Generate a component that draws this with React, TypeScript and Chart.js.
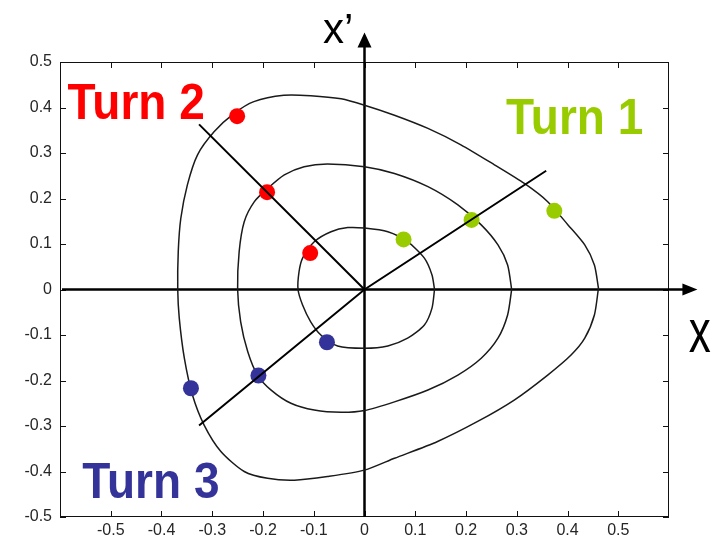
import { useEffect, useRef } from "react";
import { Chart, registerables } from "chart.js";

Chart.register(...registerables);

// ---- data ----
const tickValues = [-0.5, -0.4, -0.3, -0.2, -0.1, 0, 0.1, 0.2, 0.3, 0.4, 0.5];

const outerContour: [number, number][] = [
  [0.461, 0.003], [0.453, 0.054], [0.434, 0.098], [0.401, 0.142], [0.361, 0.193], [0.315, 0.233],
  [0.256, 0.274], [0.19, 0.318], [0.125, 0.354], [0.059, 0.383], [0, 0.405],
  [-0.046, 0.419], [-0.106, 0.426], [-0.159, 0.427], [-0.218, 0.413], [-0.257, 0.387], [-0.296, 0.347],
  [-0.329, 0.296], [-0.349, 0.23], [-0.362, 0.156], [-0.367, 0.083], [-0.368, 0.0],
  [-0.365, -0.063], [-0.355, -0.151], [-0.339, -0.232], [-0.316, -0.298], [-0.283, -0.356], [-0.237, -0.4],
  [-0.191, -0.415], [-0.138, -0.419], [-0.073, -0.411], [0, -0.397],
  [0.059, -0.371], [0.144, -0.334], [0.223, -0.29], [0.295, -0.243], [0.361, -0.188], [0.407, -0.144],
  [0.434, -0.107], [0.453, -0.056], [0.461, 0.003],
];

const middleContour: [number, number][] = [
  [0.29, 0], [0.282, 0.054], [0.263, 0.098], [0.23, 0.142], [0.184, 0.186], [0.125, 0.226], [0.059, 0.255], [0, 0.27],
  [-0.073, 0.276], [-0.119, 0.27], [-0.158, 0.252], [-0.191, 0.222], [-0.217, 0.193], [-0.237, 0.149], [-0.247, 0.083], [-0.25, 0],
  [-0.244, -0.071], [-0.23, -0.137], [-0.211, -0.188], [-0.184, -0.221], [-0.145, -0.25], [-0.099, -0.265], [-0.046, -0.27], [0, -0.266],
  [0.059, -0.247], [0.125, -0.221], [0.184, -0.188], [0.23, -0.151], [0.263, -0.107], [0.282, -0.056], [0.29, 0],
];

const innerContour: [number, number][] = [
  [0.138, 0], [0.133, 0.032], [0.118, 0.069], [0.085, 0.105], [0.046, 0.127], [0, 0.135],
  [-0.033, 0.136], [-0.066, 0.127], [-0.099, 0.105], [-0.122, 0.069], [-0.129, 0.039], [-0.131, 0],
  [-0.122, -0.034], [-0.106, -0.071], [-0.086, -0.1], [-0.053, -0.124], [0, -0.129],
  [0.046, -0.124], [0.085, -0.107], [0.118, -0.078], [0.133, -0.041], [0.138, 0],
];

const turn1Points: [number, number][] = [[0.077, 0.11], [0.211, 0.153], [0.374, 0.173]];
const turn2Points: [number, number][] = [[-0.251, 0.381], [-0.192, 0.214], [-0.107, 0.08]];
const turn3Points: [number, number][] = [[-0.074, -0.116], [-0.209, -0.189], [-0.342, -0.217]];

const turn2Line: [number, number][] = [[-0.326, 0.363], [0, 0]];
const turn13Line: [number, number][] = [[-0.326, -0.299], [0, 0], [0.358, 0.261]];

const labelTexts = ["Turn 1", "Turn 2", "Turn 3"];
const axisTexts = ["x\u2019", "x"];

// ---- styling / placement ----
const COLORS = { turn1: "#99cc00", turn2: "#ff0000", turn3: "#333399" };
const ARROW_X_END = 0.656; // data units where the x arrow tip sits
const ARROW_Y_END = 0.565;

const toXY = (a: [number, number][]) => a.map(([x, y]) => ({ x, y }));

const decorPlugin = {
  id: "decor",
  beforeDatasetsDraw(chart: any) {
    const { ctx, chartArea: a, scales } = chart;
    const xs = scales.x, ys = scales.y;
    const x0 = xs.getPixelForValue(0);
    const y0 = ys.getPixelForValue(0);
    ctx.save();
    ctx.strokeStyle = "#111";
    ctx.lineWidth = 1;
    ctx.strokeRect(Math.round(a.left) + 0.5, Math.round(a.top) + 0.5, Math.round(a.right - a.left) - 1, Math.round(a.bottom - a.top) - 1);
    ctx.beginPath();
    for (const v of tickValues) {
      const px = Math.round(xs.getPixelForValue(v)) + 0.5;
      ctx.moveTo(px, a.bottom); ctx.lineTo(px, a.bottom - 6);
      ctx.moveTo(px, a.top); ctx.lineTo(px, a.top + 6);
      const py = Math.round(ys.getPixelForValue(v)) + 0.5;
      ctx.moveTo(a.left, py); ctx.lineTo(a.left + 6, py);
      ctx.moveTo(a.right, py); ctx.lineTo(a.right - 6, py);
    }
    ctx.stroke();
    ctx.strokeStyle = "#000";
    ctx.fillStyle = "#000";
    ctx.lineWidth = 2.5;
    const xTip = xs.getPixelForValue(ARROW_X_END);
    const yTip = ys.getPixelForValue(ARROW_Y_END);
    ctx.beginPath();
    ctx.moveTo(a.left + 2, y0); ctx.lineTo(xTip - 12, y0);
    ctx.moveTo(x0, a.bottom); ctx.lineTo(x0, yTip + 12);
    ctx.stroke();
    ctx.beginPath();
    ctx.moveTo(xTip, y0); ctx.lineTo(xTip - 15, y0 - 6); ctx.lineTo(xTip - 15, y0 + 6); ctx.closePath();
    ctx.moveTo(x0, yTip); ctx.lineTo(x0 - 7, yTip + 15); ctx.lineTo(x0 + 7, yTip + 15); ctx.closePath();
    ctx.fill();
    ctx.restore();
  },
  afterDatasetsDraw(chart: any) {
    const { ctx, scales } = chart;
    const xs = scales.x, ys = scales.y;
    const put = (text: string, dx: number, dy: number, font: string, color: string, sy: number) => {
      ctx.save();
      ctx.translate(xs.getPixelForValue(dx), ys.getPixelForValue(dy));
      ctx.scale(1, sy);
      ctx.font = font;
      ctx.fillStyle = color;
      ctx.textAlign = "left";
      ctx.textBaseline = "alphabetic";
      ctx.fillText(text, 0, 0);
      ctx.restore();
    };
    const bold = 'bold 46px "Liberation Sans", Arial, sans-serif';
    put(labelTexts[1], -0.585, 0.375, bold, COLORS.turn2, 1.08);
    put(labelTexts[0], 0.279, 0.342, bold, COLORS.turn1, 1.08);
    put(labelTexts[2], -0.556, -0.459, bold, COLORS.turn3, 1.08);
    put(axisTexts[0], -0.082, 0.542, '42px "Liberation Sans", Arial, sans-serif', "#000", 1);
    put(axisTexts[1], 0.639, -0.138, '44px "Liberation Sans", Arial, sans-serif', "#000", 1.4);
  },
};

export default function App() {
  const ref = useRef<HTMLCanvasElement | null>(null);
  useEffect(() => {
    if (!ref.current) return;
    const fmt = (v: number) => {
      if (Math.abs(v) > 0.55) return "";
      const r = Math.round(v * 10) / 10;
      return r === 0 ? "0" : String(r);
    };
    const contourStyle = {
      showLine: true,
      pointRadius: 0,
      borderColor: "#1a1a1a",
      borderWidth: 1.5,
      tension: 0.25,
      fill: false,
    };
    const chart = new Chart(ref.current, {
      type: "scatter",
      data: {
        datasets: [
          { label: "turn2Line", data: toXY(turn2Line), showLine: true, pointRadius: 0, borderColor: "#000", borderWidth: 2, tension: 0 },
          { label: "turn13Line", data: toXY(turn13Line), showLine: true, pointRadius: 0, borderColor: "#000", borderWidth: 2, tension: 0 },
          { label: "Turn 1", data: toXY(turn1Points), pointRadius: 8, pointBackgroundColor: COLORS.turn1, pointBorderColor: COLORS.turn1, pointBorderWidth: 0 },
          { label: "Turn 2", data: toXY(turn2Points), pointRadius: 8, pointBackgroundColor: COLORS.turn2, pointBorderColor: COLORS.turn2, pointBorderWidth: 0 },
          { label: "Turn 3", data: toXY(turn3Points), pointRadius: 8, pointBackgroundColor: COLORS.turn3, pointBorderColor: COLORS.turn3, pointBorderWidth: 0 },
          { label: "inner", data: toXY(innerContour), ...contourStyle },
          { label: "middle", data: toXY(middleContour), ...contourStyle },
          { label: "outer", data: toXY(outerContour), ...contourStyle },
        ],
      },
      options: {
        animation: false,
        responsive: false,
        devicePixelRatio: 1,
        layout: { padding: { top: 62, right: 48, left: 0, bottom: 0 } },
        plugins: { legend: { display: false }, tooltip: { enabled: false } },
        scales: {
          x: {
            type: "linear",
            min: -0.6,
            max: 0.6,
            grid: { display: false, drawTicks: false },
            border: { display: false },
            afterFit: (s: any) => { s.height = 23; },
            ticks: {
              stepSize: 0.1,
              autoSkip: false,
              maxRotation: 0,
              padding: 4,
              color: "#262626",
              font: { family: '"Liberation Sans", Arial, sans-serif', size: 16 },
              callback: (v: any) => fmt(Number(v)),
            },
          },
          y: {
            type: "linear",
            min: -0.5,
            max: 0.5,
            grid: { display: false, drawTicks: false },
            border: { display: false },
            afterFit: (s: any) => { s.width = 60; },
            ticks: {
              stepSize: 0.1,
              autoSkip: false,
              padding: 8,
              color: "#262626",
              font: { family: '"Liberation Sans", Arial, sans-serif', size: 16 },
              callback: (v: any) => fmt(Number(v)),
            },
          },
        },
      },
      plugins: [decorPlugin],
    } as any);
    return () => chart.destroy();
  }, []);
  return (
    <div style={{ position: "absolute", left: 0, top: 0, width: 717, height: 540, background: "#fff" }}>
      <canvas ref={ref} width={717} height={540} style={{ width: 717, height: 540 }} />
    </div>
  );
}
